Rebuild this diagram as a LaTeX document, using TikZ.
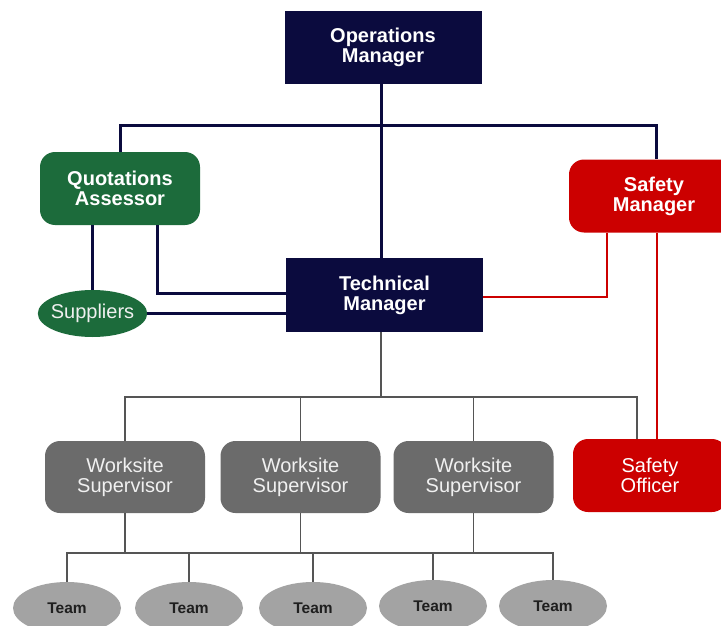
\documentclass[tikz,border=0pt]{standalone}
\usepackage{fontspec}
\setmainfont{Liberation Sans}
\usetikzlibrary{shapes.geometric}
\definecolor{navy}{HTML}{0B0B3E}
\definecolor{qgreen}{HTML}{1C6B3B}
\definecolor{sred}{HTML}{CC0000}
\definecolor{wgray}{HTML}{6B6B6B}
\definecolor{tgray}{HTML}{A3A3A3}
\definecolor{lgray}{HTML}{555555}
\tikzset{
  boxbase/.style={minimum height=73pt, inner sep=0pt, align=center, text=white,
    font=\fontsize{20}{20}\selectfont},
  navybox/.style={boxbase, rectangle, fill=navy, minimum width=197pt, font=\fontsize{20}{20}\selectfont\bfseries},
  greenbox/.style={boxbase, rectangle, rounded corners=15pt, fill=qgreen, minimum width=160pt, font=\fontsize{20}{20}\selectfont\bfseries},
  redbox/.style={boxbase, rectangle, rounded corners=15pt, fill=sred, minimum width=170pt, font=\fontsize{20}{20}\selectfont\bfseries},
  sobox/.style={boxbase, rectangle, rounded corners=15pt, fill=sred, minimum width=154pt},
  wsbox/.style={boxbase, rectangle, rounded corners=15pt, fill=wgray, minimum width=160pt, minimum height=72pt, text=white!94!black},
  supp/.style={ellipse, fill=qgreen, minimum width=109pt, minimum height=47pt, inner xsep=-3pt, inner ysep=0pt, text=white!94!black, font=\fontsize{20}{20}\selectfont},
  team/.style={ellipse, fill=tgray, minimum width=108pt, minimum height=52pt, inner sep=0pt, text=black!88, font=\fontsize{15.5}{16}\selectfont\bfseries},
  navyline/.style={draw=navy, line width=3pt},
  redline/.style={draw=sred, line width=2.5pt},
  grayline/.style={draw=lgray, line width=1.8pt}
}
\begin{document}
\begin{tikzpicture}[x=1pt,y=-1pt]
\clip (0,0) rectangle (721,626);
\fill[white] (0,0) rectangle (721,626);
\path
  (383,47.5) node[navybox] (OM) {Operations\\Manager}
  (120,188.5) node[greenbox] (QA) {Quotations\\Assessor}
  (654,196) node[redbox] (SM) {Safety\\Manager}
  (384.5,295) node[navybox, minimum height=74pt] (TM) {Technical\\Manager}
  (92.5,313.5) node[supp] (SUP) {Suppliers}
  (125,477) node[wsbox] (WS1) {Worksite\\Supervisor}
  (300.5,477) node[wsbox] (WS2) {Worksite\\Supervisor}
  (473.5,477) node[wsbox] (WS3) {Worksite\\Supervisor}
  (650,475.5) node[sobox] (SO) {Safety\\Officer}
  (67,608) node[team] (T1) {Team}
  (189,608) node[team] (T2) {Team}
  (313,608) node[team] (T3) {Team}
  (433,606) node[team] (T4) {Team}
  (553,606) node[team] (T5) {Team};
% navy connectors
\draw[navyline] ([xshift=-2]OM.south) -- ([xshift=-2]OM.south |- TM.north);
\draw[navyline] (QA.north) -- ++(0,-26) coordinate (nb) -| ([xshift=2]SM.north);
\draw[navyline] (SUP.north |- QA.south) -- (SUP.north);
\draw[navyline] ([xshift=37]QA.south) |- ([yshift=2]TM.west);
\draw[navyline] (SUP.east) -- (SUP.east -| TM.west);
% red connectors
\draw[redline] ([xshift=-47]SM.south) |- ([yshift=-2]TM.east);
\draw[redline] ([xshift=3]SM.south) -- ([xshift=3]SM.south |- SO.north);
% gray connectors
\coordinate (gbus) at ([xshift=-3.5,yshift=-65]TM.south);
\draw[grayline] ([xshift=-3.5]TM.south) -- (gbus);
\draw[grayline] (WS1.north) |- (gbus) -| ([xshift=-13]SO.north);
\draw[grayline] (WS2.north) -- (WS2.north |- gbus);
\draw[grayline] (WS3.north) -- (WS3.north |- gbus);
\coordinate (tbus) at ([yshift=-40]WS2.south);
\draw[grayline] (WS1.south) -- (WS1.south |- tbus);
\draw[grayline] (WS2.south) -- (tbus);
\draw[grayline] (WS3.south) -- (WS3.south |- tbus);
\draw[grayline] (T1.north) |- (tbus) -| (T5.north);
\draw[grayline] (T2.north) -- (T2.north |- tbus);
\draw[grayline] (T3.north) -- (T3.north |- tbus);
\draw[grayline] (T4.north) -- (T4.north |- tbus);
\end{tikzpicture}
\end{document}
